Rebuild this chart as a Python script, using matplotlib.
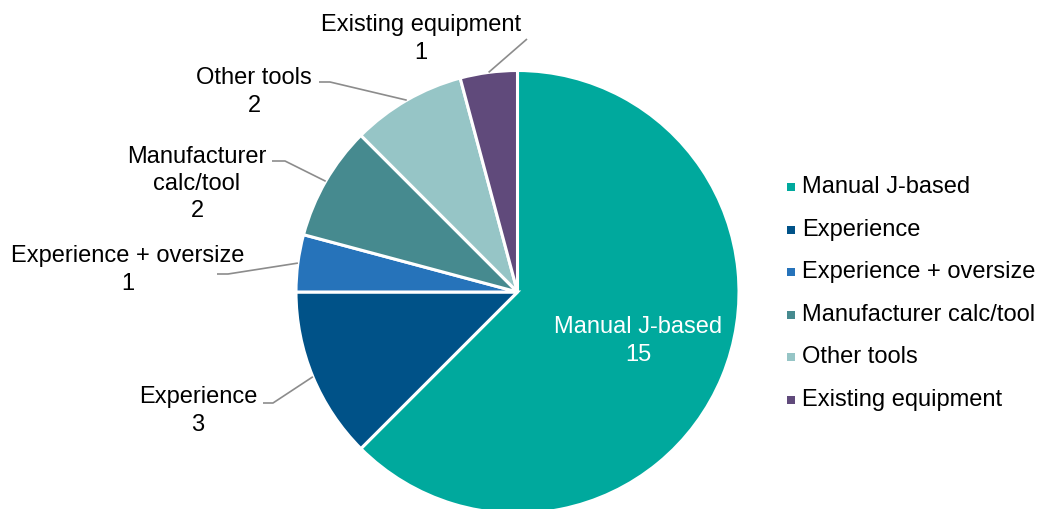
import numpy as np
import matplotlib.pyplot as plt

plt.rcParams['font.family'] = ['Liberation Sans', 'DejaVu Sans']

# sizing method counts
categories = ['Manual J-based', 'Experience', 'Experience + oversize',
              'Manufacturer calc/tool', 'Other tools', 'Existing equipment']
counts = [15, 3, 1, 2, 2, 1]
colors = ['#00A99D', '#005288', '#2673BA', '#468A8F', '#96C5C6', '#604A7B']

# outside label text (name lines) and where they sit, in pixel coords
label_text = {
    'Experience': 'Experience',
    'Experience + oversize': 'Experience + oversize',
    'Manufacturer calc/tool': 'Manufacturer\ncalc/tool',
    'Other tools': 'Other tools',
    'Existing equipment': 'Existing equipment',
}
label_pos = {
    'Experience': (198, 411),
    'Experience + oversize': (128, 270),
    'Manufacturer calc/tool': (197, 184),
    'Other tools': (254, 92),
    'Existing equipment': (421, 39),
}
# elbow of each leader line and the end of its short horizontal stub
leader_pts = {
    'Experience': [(273, 404), (263, 404)],
    'Experience + oversize': [(228, 275), (217, 275)],
    'Manufacturer calc/tool': [(285, 162), (272, 162)],
    'Other tools': [(330, 83), (319, 83)],
    'Existing equipment': [(527, 40)],
}

W, H = 1039, 510
fig = plt.figure(figsize=(W / 100, H / 100), dpi=100)
ax = fig.add_axes([0, 0, 1, 1])

cx, cy, r = 517.5, H - 293, 221.5
wedges, _ = ax.pie(counts, colors=colors, startangle=90, counterclock=False,
                   center=(cx, cy), radius=r, frame=True,
                   wedgeprops=dict(edgecolor='white', linewidth=2.2))
ax.set_xlim(0, W)
ax.set_ylim(0, H)
ax.set_aspect('equal')
ax.axis('off')

fs = 17
for w, cat, n in zip(wedges, categories, counts):
    mid = np.deg2rad((w.theta1 + w.theta2) / 2)
    if cat == 'Manual J-based':
        ax.text(638, H - 341, f'{cat}\n{n}', color='white', fontsize=fs,
                ha='center', va='center', linespacing=1.35)
        continue
    ex, ey = cx + r * np.cos(mid), cy + r * np.sin(mid)
    pts = [(ex, ey)] + [(x, H - y) for x, y in leader_pts[cat]]
    ax.plot([p[0] for p in pts], [p[1] for p in pts], color='#8C8C8C', lw=1.2,
            solid_capstyle='butt')
    tx, ty = label_pos[cat]
    ax.text(tx, H - ty, f'{label_text[cat]}\n{n}', color='black', fontsize=fs,
            ha='center', va='center', linespacing=1.32)

# legend: small square swatch + label per row
leg_x, leg_y0, leg_dy = 791, 187, 42.6
for i, (cat, c) in enumerate(zip(categories, colors)):
    y = H - (leg_y0 + i * leg_dy)
    ax.scatter([leg_x], [y - 1], marker='s', s=26, color=c, linewidths=0)
    ax.text(leg_x + 11, y, cat, fontsize=fs, ha='left', va='center')

fig.savefig('out.png', dpi=100)
